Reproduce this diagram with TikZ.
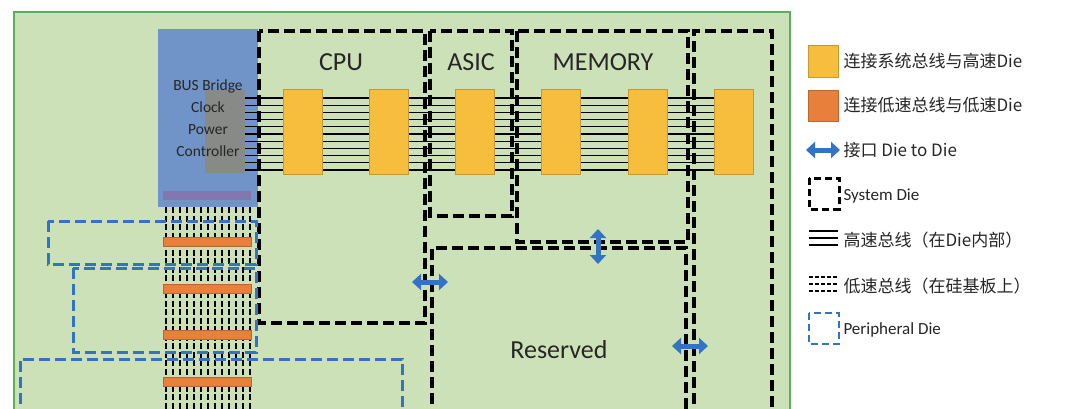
\documentclass[tikz,border=0pt]{standalone}
\usepackage{fontspec}
\setmainfont{Carlito}
\newfontfamily\cjk{Noto Sans CJK SC}
\usetikzlibrary{arrows.meta}
\definecolor{bg}{RGB}{205,225,185}
\definecolor{gbord}{RGB}{90,175,90}
\definecolor{bluebox}{RGB}{112,148,200}
\definecolor{grayb}{RGB}{135,138,135}
\definecolor{purp}{RGB}{130,120,175}
\definecolor{yel}{RGB}{246,190,60}
\definecolor{ora}{RGB}{232,128,60}
\definecolor{arb}{RGB}{50,115,195}
\definecolor{pblue}{RGB}{50,115,195}
\begin{document}
\begin{tikzpicture}[x=1pt,y=-1pt,
 sysdie/.style={draw=black,line width=3.3pt,dash pattern=on 11pt off 5pt},
 perdie/.style={draw=pblue,line width=3pt,dash pattern=on 11pt off 5pt},
 yblk/.style={fill=yel,draw=yel!80!black,line width=0.5pt},
 obar/.style={fill=ora,draw=ora!80!black,line width=0.5pt},
 dbl/.style={draw=arb,line width=5pt,{Triangle[length=9pt,width=16pt]}-{Triangle[length=9pt,width=16pt]}},
 lbl/.style={font=\fontsize{26}{26}\selectfont,text=black!85},
 leg/.style={anchor=west,font=\fontsize{17}{20}\selectfont,text=black!85}]
\useasboundingbox (0,0) rectangle (1080,408);
\fill[white] (0,0) rectangle (1080,408);
\draw[fill=bg,draw=gbord,line width=2pt] (14,420) -- (14,12) -- (790,12) -- (790,420);
% low speed dotted bus
\foreach \i in {0,...,12}{\draw[line width=1.8pt,dash pattern=on 6pt off 2.5pt] (166+\i*7,207) -- (166+\i*7,410);}
\foreach \y in {237,284,330,377}{\path[obar] (163,\y) rectangle (251,\y+9);}
% bus bridge
\node[fill=bluebox,minimum width=100pt,minimum height=178pt,inner sep=0pt] (bb) at (208,118) {};
\node[fill=grayb,minimum width=40pt,minimum height=83pt,inner sep=0pt] (gr) at (225,131.5) {};
\node[fill=purp,minimum width=88pt,minimum height=9pt,inner sep=0pt] (pb) at (207,195.5) {};
\node[align=center,font=\fontsize{15.5}{22}\selectfont,text=black!85] (bbt) at (208,118.5) {BUS Bridge\\Clock\\Power\\Controller};
% high speed bus lines
\foreach \i in {0,...,10}{\draw[line width=1.3pt] (245,98+\i*7.2) -- (714,98+\i*7.2);}
\foreach \x [count=\k] in {283,369,455,541,628,714}{\node[yblk,minimum width=39pt,minimum height=85pt,inner sep=0pt] (y\k) at (\x+19.5,131.5) {};}
% system dies
\draw[sysdie] (259,31) rectangle (425,323);
\draw[sysdie] (430,31) rectangle (512,216);
\draw[sysdie] (517,31) rectangle (688,242);
\draw[sysdie] (432,420) -- (432,248) -- (686,248) -- (686,420);
\draw[sysdie] (694,420) -- (694,31) -- (772,31) -- (772,420);
% peripheral dies
\draw[perdie] (48,221) rectangle (256,264);
\draw[perdie] (73,268) rectangle (256,352);
\draw[perdie] (20,420) -- (20,359) -- (402,359) -- (402,420);
% labels
\node[lbl] (cpu) at (341,62) {CPU};
\node[lbl] (asic) at (471,62) {ASIC};
\node[lbl] (mem) at (603,62) {MEMORY};
\node[lbl] (res) at (559,350) {Reserved};
% die-to-die arrows
\coordinate (a1l) at (412,282); \coordinate (a1r) at (448,282);
\draw[dbl] (a1l) -- (a1r);
\coordinate (a2t) at (598,229); \coordinate (a2b) at (598,264);
\draw[dbl] (a2t) -- (a2b);
\coordinate (a3l) at (672,346); \coordinate (a3r) at (708,346);
\draw[dbl] (a3l) -- (a3r);
% legend
\node[yblk,minimum width=30pt,minimum height=32pt,inner sep=0pt] (ly) at (823,61) {};
\node[leg] (lyt) at (840,61) {\cjk 连接系统总线与高速Die};
\node[obar,minimum width=30pt,minimum height=31pt,inner sep=0pt] (lo) at (823,105.5) {};
\node[leg] (lot) at (840,105.5) {\cjk 连接低速总线与低速Die};
\coordinate (lal) at (806,150); \coordinate (lar) at (840,150);
\draw[dbl] (lal) -- (lar);
\node[leg] (lat) at (840,150) {\cjk 接口 Die to Die};
\draw[sysdie,line width=3pt,dash pattern=on 7pt off 4pt] (809,178) rectangle (839,209);
\node[leg] (lst) at (840,196) {System Die};
\foreach \i in {0,1,2}{\draw[line width=1.3pt] (809,231+\i*7) -- (838,231+\i*7);}
\node[leg] (lht) at (840,240) {\cjk 高速总线（在Die内部）};
\foreach \i in {0,1,2}{\draw[line width=1.3pt,dash pattern=on 4pt off 2pt] (809,277+\i*7) -- (838,277+\i*7);}
\node[leg] (llt) at (840,286) {\cjk 低速总线（在硅基板上）};
\draw[perdie,line width=2.5pt,dash pattern=on 7pt off 4pt] (809,313) rectangle (839,344);
\node[leg] (lpt) at (840,330) {Peripheral Die};
\end{tikzpicture}
\end{document}
